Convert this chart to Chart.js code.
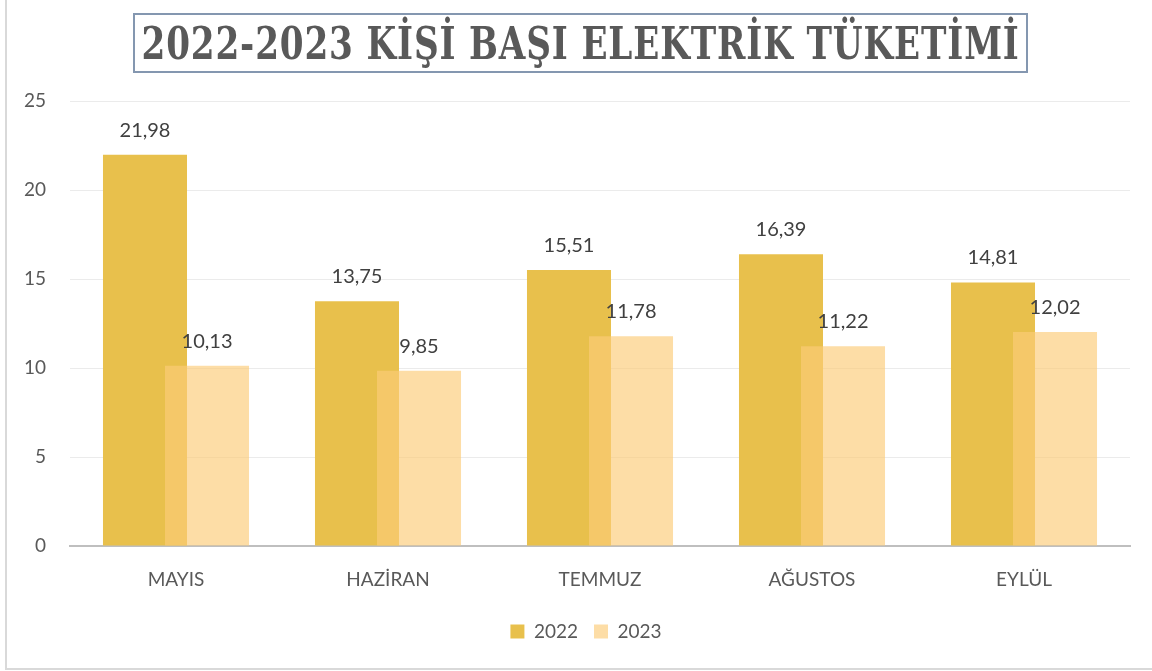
<!DOCTYPE html>
<html>
<head>
<meta charset="utf-8">
<script src="https://cdn.jsdelivr.net/npm/chart.js@4/dist/chart.umd.min.js"></script>
<style>
  html, body { margin: 0; padding: 0; background: #fff; }
  #wrap {
    position: relative;
    width: 1152px;
    height: 671px;
    overflow: hidden;
  }
  #frame {
    position: absolute;
    left: 5px; top: -2px; width: 1160px; height: 672px;
    border: 2px solid #d9d9d9;
    box-sizing: border-box;
    pointer-events: none;
  }
  #title {
    position: absolute;
    left: 133px; top: 13px; width: 895px; height: 60px;
    border: 2px solid #8497b0;
    box-sizing: border-box;
    display: flex; align-items: center; justify-content: center;
    overflow: hidden;
  }
  #title span {
    display: inline-block;
    font-family: "DejaVu Serif", "Liberation Serif", serif;
    font-stretch: condensed;
    font-weight: bold;
    font-size: 45px;
    letter-spacing: 1px;
    line-height: 1;
    color: #595959;
    white-space: nowrap;
    transform-origin: center center;
  }
  canvas { position: absolute; left: 0; top: 0; }
</style>
</head>
<body>
<div id="wrap">
  <canvas id="chart" width="1152" height="671"></canvas>
  <div id="frame"></div>
  <div id="title"><span>2022-2023 KİŞİ BAŞI ELEKTRİK TÜKETİMİ</span></div>
</div>
<script>
const months = ['MAYIS', 'HAZİRAN', 'TEMMUZ', 'AĞUSTOS', 'EYLÜL'];
const values2022 = [21.98, 13.75, 15.51, 16.39, 14.81];
const values2023 = [10.13, 9.85, 11.78, 11.22, 12.02];
const yTicks = [0, 5, 10, 15, 20, 25];

const colors = {
  y2022: '#e8c04c',
  y2023: 'rgba(252, 204, 120, 0.66)',
  text: '#595959',
  label: '#404040',
  grid: '#ebebeb',
  axis: '#bfbfbf'
};

const uiFont = 'Lato, "Open Sans", sans-serif';

// squeeze the title into its box
const titleSpan = document.querySelector('#title span');
const targetWidth = 878;
titleSpan.style.transform = 'scaleX(' + (targetWidth / titleSpan.offsetWidth) + ')';

// draw datasets in index order so the 2023 bars sit on top of 2022
const drawInOrder = {
  id: 'drawInOrder',
  beforeDatasetsDraw(chart) {
    chart.getSortedVisibleDatasetMetas().forEach(meta => meta.controller.draw());
    return false;
  }
};

// legend sits a bit right of the canvas centre
const legendShift = {
  id: 'legendShift',
  afterLayout(chart) {
    chart.legend.left += 21;
    chart.legend.right += 21;
  }
};

// value labels above bars
const valueLabels = {
  id: 'valueLabels',
  afterDraw(chart) {
    const ctx = chart.ctx;
    ctx.save();
    ctx.font = '20px ' + uiFont;
    ctx.fillStyle = colors.label;
    ctx.textAlign = 'center';
    ctx.textBaseline = 'alphabetic';
    chart.data.datasets.forEach((ds, i) => {
      const meta = chart.getDatasetMeta(i);
      meta.data.forEach((bar, j) => {
        const txt = ds.data[j].toFixed(2).replace('.', ',');
        ctx.fillText(txt, bar.x, bar.y - 18);
      });
    });
    ctx.restore();
  }
};

new Chart(document.getElementById('chart'), {
  type: 'bar',
  data: {
    labels: months,
    datasets: [
      {
        label: '2022',
        data: values2022,
        backgroundColor: colors.y2022,
        categoryPercentage: 0.585,
        barPercentage: 1.355
      },
      {
        label: '2023',
        data: values2023,
        backgroundColor: colors.y2023,
        categoryPercentage: 0.585,
        barPercentage: 1.355
      }
    ]
  },
  options: {
    responsive: false,
    animation: false,
    layout: {
      padding: { top: 101, right: 22, bottom: 20, left: 0 }
    },
    plugins: {
      title: { display: false },
      tooltip: { enabled: false },
      legend: {
        position: 'bottom',
        labels: {
          color: colors.text,
          font: { family: uiFont, size: 19 },
          boxWidth: 14,
          boxHeight: 14,
          padding: 16
        }
      }
    },
    scales: {
      x: {
        grid: { display: false },
        border: { display: true, color: colors.axis, width: 2 },
        afterFit(scale) {
          scale.height = 60;
        },
        ticks: {
          color: colors.text,
          font: { family: uiFont, size: 19 },
          padding: 14
        }
      },
      y: {
        min: 0,
        max: 25,
        afterBuildTicks(scale) {
          scale.ticks = yTicks.map(v => ({ value: v }));
        },
        afterFit(scale) {
          scale.width = 70;
        },
        grid: { color: colors.grid, drawTicks: false },
        border: { display: false },
        ticks: {
          color: colors.text,
          font: { family: uiFont, size: 19 },
          padding: 24
        }
      }
    }
  },
  plugins: [drawInOrder, legendShift, valueLabels]
});
</script>
</body>
</html>
